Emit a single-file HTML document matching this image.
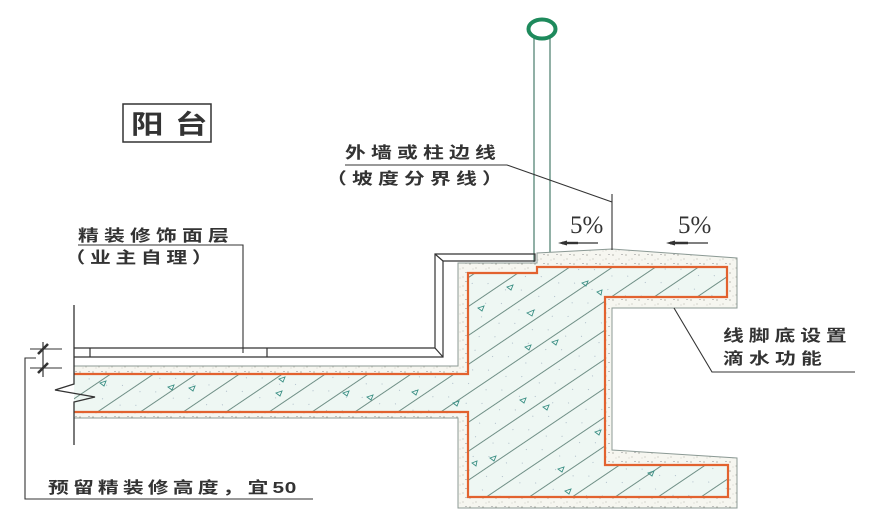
<!DOCTYPE html>
<html>
<head>
<meta charset="utf-8">
<style>
html,body{margin:0;padding:0;background:#fff;}
svg{display:block;}
.t{font-family:"Liberation Sans","Noto Sans CJK SC",sans-serif;font-weight:bold;fill:#333;}
</style>
</head>
<body>
<svg width="882" height="526" viewBox="0 0 882 526" xmlns="http://www.w3.org/2000/svg">
<defs>
  <pattern id="hatch" patternUnits="userSpaceOnUse" width="24" height="24" patternTransform="rotate(-34)">
    <rect width="24" height="24" fill="#eef7f3"/>
    <line x1="0" y1="12" x2="24" y2="12" stroke="#6f8f86" stroke-width="0.9"/>
    <circle cx="6" cy="4" r="0.5" fill="#9ab"/>
    <circle cx="17" cy="19" r="0.5" fill="#9ab"/>
  </pattern>
  <pattern id="dots" patternUnits="userSpaceOnUse" width="13" height="9">
    <rect width="13" height="9" fill="#f6f6f0"/>
    <circle cx="2" cy="3" r="0.6" fill="#8a8a80"/>
    <circle cx="8" cy="7" r="0.5" fill="#9a9a90"/>
    <rect x="10" y="2" width="2" height="0.7" fill="#aaa"/>
    <circle cx="5" cy="8" r="0.4" fill="#999"/>
  </pattern>
</defs>

<rect width="882" height="526" fill="#fff"/>

<!-- Title -->
<rect x="123" y="104" width="88" height="38" fill="none" stroke="#333" stroke-width="1.5"/>
<text class="t" transform="translate(131,133.5) scale(1.25,1)" font-size="26" letter-spacing="9.2">阳台</text>

<!-- Pole -->
<line x1="534" y1="38" x2="534" y2="262" stroke="#6d9688" stroke-width="1.5"/>
<line x1="550" y1="38" x2="550" y2="252" stroke="#6d9688" stroke-width="1.5"/>
<ellipse cx="542" cy="29" rx="13.5" ry="9.5" fill="#fff" stroke="#1e8a5c" stroke-width="4"/>

<!-- Plaster layer -->
<path d="M74,366 L458,366 L458,263 L537,263 L537,253 L612,249 L737,258 L737,308 L612,308 L612,450 L737,458 L737,508 L458,508 L458,418 L74,418 Z" fill="url(#dots)" stroke="none"/>
<path d="M74,366 L458,366 L458,263 L537,263 L537,253 L612,249 L737,258 L737,308 L612,308 L612,450 L737,458 L737,508 L458,508 L458,418 L74,418" fill="none" stroke="#8c9a95" stroke-width="1"/>

<!-- Concrete -->
<polygon points="74,374 468,374 468,273 537,273 537,267 727,267 727,297 605,297 605,465 728,465 728,497 468,497 468,412 74,412" fill="url(#hatch)" stroke="none"/>
<polyline points="74,374 468,374 468,273 537,273 537,267 727,267 727,297 605,297 605,465 728,465 728,497 468,497 468,412 74,412" fill="none" stroke="#e2622f" stroke-width="2.2"/>

<!-- triangles -->
<g fill="none" stroke="#3a8f84" stroke-width="0.9">
  <path d="M100,383 l6,-2 l-2,5 z"/>
  <path d="M168,387 l6,-2 l-2,5 z"/>
  <path d="M189,388 l6,-2 l-2,5 z"/>
  <path d="M279,379 l6,-2 l-2,5 z"/>
  <path d="M276,393 l6,-2 l-2,5 z"/>
  <path d="M343,393 l6,-2 l-2,5 z"/>
  <path d="M367,397 l6,-2 l-2,5 z"/>
  <path d="M412,392 l6,-2 l-2,5 z"/>
  <path d="M453,403 l6,-2 l-2,5 z"/>
  <path d="M507,287 l6,-2 l-2,5 z"/>
  <path d="M478,308 l6,-2 l-2,5 z"/>
  <path d="M527,313 l7,-3 l-2,6 z"/>
  <path d="M582,283 l6,-2 l-2,5 z"/>
  <path d="M597,292 l5,-2 l-1,5 z"/>
  <path d="M525,347 l6,-2 l-2,5 z"/>
  <path d="M552,342 l6,-2 l-2,5 z"/>
  <path d="M520,400 l6,-2 l-2,5 z"/>
  <path d="M543,407 l6,-2 l-2,5 z"/>
  <path d="M595,432 l6,-2 l-2,5 z"/>
  <path d="M490,458 l6,-2 l-2,5 z"/>
  <path d="M558,469 l6,-2 l-2,5 z"/>
  <path d="M648,473 l6,-2 l-2,5 z"/>
  <path d="M565,491 l6,-2 l-2,5 z"/>
  <path d="M472,463 l5,-2 l-1,5 z"/>
</g>

<!-- Floor finish & skirting -->
<g stroke="#333" stroke-width="1.2" fill="none">
  <polyline points="74,348 435,348 435,254 535,254 535,261 443,261 443,357 74,357"/>
  <line x1="435" y1="254" x2="443" y2="261"/>
  <line x1="435" y1="348" x2="443" y2="357"/>
  <line x1="90" y1="348" x2="90" y2="357"/>
  <line x1="267" y1="348" x2="267" y2="357"/>
</g>

<!-- Left wall with break -->
<polyline points="74,305 74,384 55,390 95,397 74,402 74,445" fill="none" stroke="#333" stroke-width="1.3"/>

<!-- Dimension -->
<g stroke="#333" fill="none">
  <line x1="43" y1="342" x2="43" y2="377" stroke-width="1.2"/>
  <line x1="30" y1="349" x2="62" y2="349" stroke-width="1"/>
  <line x1="30" y1="368" x2="62" y2="368" stroke-width="1"/>
  <line x1="38" y1="354" x2="48" y2="344" stroke-width="2.6"/>
  <line x1="38" y1="373" x2="48" y2="363" stroke-width="2.6"/>
</g>

<!-- Leaders -->
<g stroke="#333" stroke-width="1.1" fill="none">
  <polyline points="345,165 507,165 612,202"/>
  <line x1="612" y1="194" x2="612" y2="250"/>
  <polyline points="78,245 243,245 243,353"/>
  <polyline points="674,308 712,372 855,372"/>
  <polyline points="36,358 25,358 25,499 313,499"/>
</g>

<!-- slope marks -->
<text x="570" y="233" font-family="Liberation Serif, serif" font-size="25" fill="#333">5%</text>
<text x="678" y="233" font-family="Liberation Serif, serif" font-size="25" fill="#333">5%</text>
<g stroke="#333" fill="#333">
  <line x1="562" y1="243" x2="598" y2="243" stroke-width="1.3"/>
  <line x1="562" y1="243" x2="578" y2="243" stroke-width="2.4"/>
  <polygon points="558,243 567,240.5 567,245.5" stroke="none"/>
  <line x1="670" y1="243" x2="708" y2="243" stroke-width="1.3"/>
  <line x1="670" y1="243" x2="688" y2="243" stroke-width="2.4"/>
  <polygon points="666,243 675,240.5 675,245.5" stroke="none"/>
</g>

<!-- Labels -->
<text class="t" transform="translate(345,158) scale(1.3,1)" font-size="16" letter-spacing="4">外墙或柱边线</text>
<text class="t" transform="translate(326,184) scale(1.3,1)" font-size="16" letter-spacing="4">（坡度分界线）</text>
<text class="t" transform="translate(78,241) scale(1.3,1)" font-size="16" letter-spacing="4">精装修饰面层</text>
<text class="t" transform="translate(64.5,263) scale(1.3,1)" font-size="16" letter-spacing="3.6">（业主自理）</text>
<text class="t" transform="translate(723,341) scale(1.3,1)" font-size="16" letter-spacing="3.8">线脚底设置</text>
<text class="t" transform="translate(723,364) scale(1.3,1)" font-size="16" letter-spacing="4">滴水功能</text>
<text class="t" transform="translate(48,493) scale(1.3,1)" font-size="16" letter-spacing="3.2">预留精装修高度，宜<tspan letter-spacing="0.5">50</tspan></text>
</svg>
</body>
</html>
